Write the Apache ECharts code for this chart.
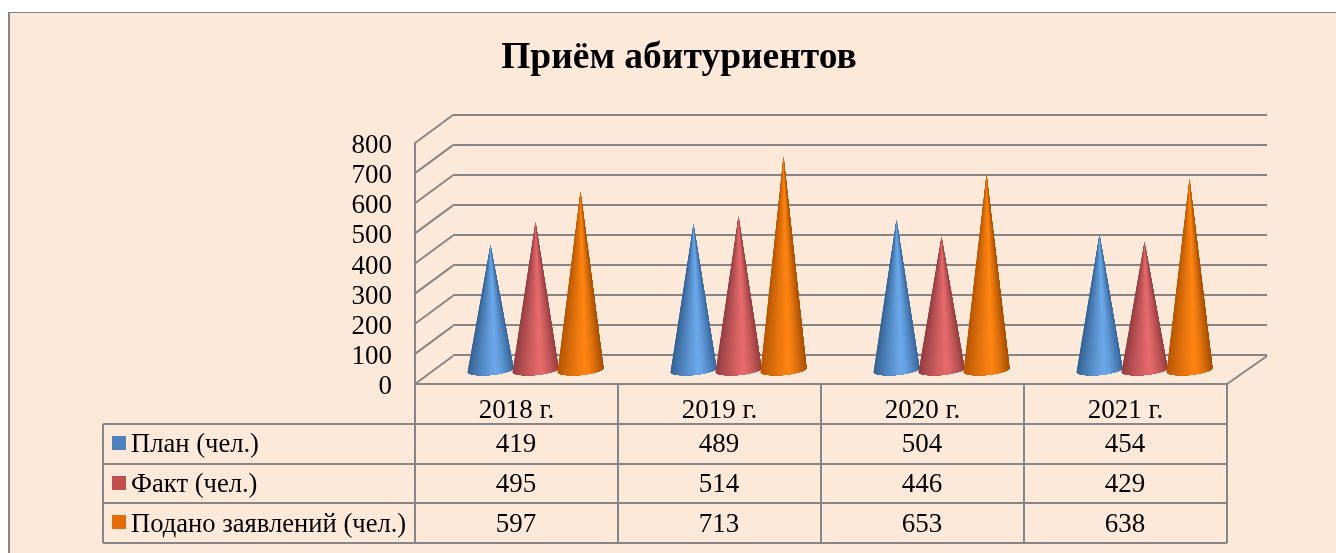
<!DOCTYPE html>
<html>
<head>
<meta charset="utf-8">
<title>Приём абитуриентов</title>
<style>
  html, body { margin: 0; padding: 0; background: #fff; overflow: hidden; }
  #panel { position: absolute; left: 8px; top: 12px; width: 1340px; height: 560px; background: #fde9d9; border-left: 2px solid #868686; border-top: 1px solid #868686; }
  #chart { position: absolute; left: 0; top: 0; width: 1336px; height: 553px; }
</style>
<script src="https://cdn.jsdelivr.net/npm/echarts@6/dist/echarts.min.js"></script>
</head>
<body>
<div id="panel"></div>
<div id="chart"></div>
<script>
const categories = ['2018 г.', '2019 г.', '2020 г.', '2021 г.']
const plan = [419, 489, 504, 454]
const fact = [495, 514, 446, 429]
const applied = [597, 713, 653, 638]
const seriesNames = ['План (чел.)', 'Факт (чел.)', 'Подано заявлений (чел.)']
const yTicks = [0, 100, 200, 300, 400, 500, 600, 700, 800]

const FONT = '"Liberation Serif", "Times New Roman", serif'
const LINE = '#868686'
const keyColors = ['#4f81bd', '#c0504d', '#e46c0a']
// цвета по окружности конуса: край, середина, край
const coneColors = [
  ['#33608f', '#6ba8ea', '#39689c'],
  ['#8f3c3e', '#e66a6d', '#97403f'],
  ['#b35504', '#ff8412', '#a65003']
]

const hex = c => [1, 3, 5].map(i => parseInt(c.substr(i, 2), 16))
function mix(a, b, t) {
  const x = hex(a), y = hex(b)
  return 'rgb(' + x.map((v, i) => Math.round(v + (y[i] - v) * t)).join(',') + ')'
}
function shade(colors, u) {
  // u от -1 (слева) до 1 (справа), самая светлая полоса чуть правее центра
  const peak = 0.2
  return u < peak
    ? mix(colors[0], colors[1], Math.pow((u + 1) / (peak + 1), 0.8))
    : mix(colors[1], colors[2], Math.pow((u - peak) / (1 - peak), 1.4))
}

// конус: грани от вершины, каждая следующая перекрывает предыдущую, чтобы не было швов
function renderCone(index) {
  return function (params, api) {
    const band = api.size([1, 0])[0]
    const base = api.coord([api.value(0), 0])
    const top = api.coord([api.value(0), api.value(1)])
    const cx = base[0] + (index - 1) * band * 0.2217
    const rx = band * 0.113
    const steps = 36
    const point = i => {
      const u = -Math.cos(Math.PI * i / steps)
      return [cx + u * rx, base[1] - 1 - 2 * u + 5 * Math.sqrt(Math.max(0, 1 - u * u))]
    }
    const children = []
    for (let i = 0; i < steps; i++) {
      const points = [[cx, top[1]]]
      for (let j = i; j <= steps; j++) points.push(point(j))
      const u = -Math.cos(Math.PI * (i + 0.5) / steps)
      children.push({
        type: 'polygon',
        shape: { points },
        style: { fill: shade(coneColors[index], u) }
      })
    }
    return { type: 'group', children }
  }
}

// линии боковой стенки и правая линия пола
function renderWall(params, api) {
  const y = api.coord([0, api.value(0)])[1]
  const left = params.coordSys.x
  const right = left + params.coordSys.width
  const style = { stroke: LINE, lineWidth: 2 }
  const children = [{ type: 'line', shape: { x1: left, y1: y, x2: left + 38, y2: y - 28 }, style }]
  if (api.value(0) === 0) {
    children.push({ type: 'line', shape: { x1: right, y1: y, x2: right + 40, y2: y - 28 }, style })
  }
  return { type: 'group', children }
}

// таблица данных под графиком
function buildTable() {
  const lineStyle = { stroke: LINE, lineWidth: 2 }
  const columns = [415, 618, 821, 1024, 1227]
  const rows = [424, 464, 503, 543]
  const rowMiddle = [444, 484, 524]
  const values = [plan, fact, applied]
  const items = []
  columns.forEach(x => {
    items.push({ type: 'line', shape: { x1: x, y1: 384, x2: x, y2: 543 }, style: lineStyle })
  })
  items.push({ type: 'line', shape: { x1: 103, y1: 424, x2: 103, y2: 543 }, style: lineStyle })
  rows.forEach(y => {
    items.push({ type: 'line', shape: { x1: 103, y1: y, x2: 1227, y2: y }, style: lineStyle })
  })
  seriesNames.forEach((name, r) => {
    items.push({ type: 'rect', shape: { x: 112, y: rowMiddle[r] - 8 - (r === 2 ? 1 : 0), width: 14, height: 14 }, style: { fill: keyColors[r] } })
    items.push({
      type: 'text', x: 131, y: rowMiddle[r] + 1,
      style: { text: name, font: '26.6px ' + FONT, fill: '#000', textAlign: 'left', textVerticalAlign: 'middle' }
    })
    values[r].forEach((v, c) => {
      items.push({
        type: 'text', x: (columns[c] + columns[c + 1]) / 2 - 0.5, y: rowMiddle[r] + 1,
        style: { text: String(v), font: '27px ' + FONT, fill: '#000', textAlign: 'center', textVerticalAlign: 'middle' }
      })
    })
  })
  return items.map(item => ({ ...item, silent: true }))
}

const hiddenAxis = { show: false }
const option = {
  animation: false,
  backgroundColor: 'transparent',
  textStyle: { fontFamily: FONT },
  title: {
    text: 'Приём абитуриентов',
    left: 674,
    top: 34,
    textAlign: 'center',
    textStyle: { fontFamily: FONT, fontSize: 37.5, fontWeight: 'bold', color: '#000' }
  },
  grid: [
    { left: 415, top: 143, width: 812, height: 241 },
    { left: 453, top: 115, width: 814, height: 240 },
    { left: 434, top: 131, width: 812, height: 240 },
    // подписи оси чуть ниже линий, как в оригинале
    { left: 415, top: 146, width: 812, height: 241 }
  ],
  xAxis: [
    {
      type: 'category', gridIndex: 0, data: categories,
      axisLine: { lineStyle: { color: LINE, width: 2 } },
      axisTick: { show: false },
      axisLabel: { margin: 13, fontFamily: FONT, fontSize: 27, color: '#000' }
    },
    { type: 'category', gridIndex: 1, data: categories, ...hiddenAxis },
    { type: 'category', gridIndex: 2, data: categories, ...hiddenAxis },
    { type: 'category', gridIndex: 3, data: categories, ...hiddenAxis }
  ],
  yAxis: [
    {
      type: 'value', gridIndex: 0, min: 0, max: 800, interval: 100,
      axisLine: { show: true, lineStyle: { color: LINE, width: 2 } },
      axisTick: { show: false },
      splitLine: { show: false },
      axisLabel: { show: false }
    },
    {
      type: 'value', gridIndex: 1, min: 0, max: 800, interval: 100,
      axisLine: { show: false }, axisTick: { show: false }, axisLabel: { show: false },
      splitLine: { show: true, lineStyle: { color: LINE, width: 2 } }
    },
    { type: 'value', gridIndex: 2, min: 0, max: 800, interval: 100, ...hiddenAxis },
    {
      type: 'value', gridIndex: 3, min: 0, max: 800, interval: 100,
      axisLine: { show: false }, axisTick: { show: false }, splitLine: { show: false },
      axisLabel: { margin: 23, fontFamily: FONT, fontSize: 27, color: '#000' }
    }
  ],
  series: [
    {
      type: 'custom', xAxisIndex: 0, yAxisIndex: 0, silent: true, clip: false,
      renderItem: renderWall, data: yTicks.map(v => [v]), encode: { y: 0 }, z: 1
    },
    ...[plan, fact, applied].map((values, i) => ({
      type: 'custom',
      name: seriesNames[i],
      xAxisIndex: 2,
      yAxisIndex: 2,
      clip: false,
      silent: true,
      z: 3 + i,
      renderItem: renderCone(i),
      encode: { x: 0, y: 1 },
      data: values.map((v, c) => [c, v])
    }))
  ],
  graphic: buildTable()
}

const chart = echarts.init(document.getElementById('chart'))
chart.setOption(option)
</script>
</body>
</html>
